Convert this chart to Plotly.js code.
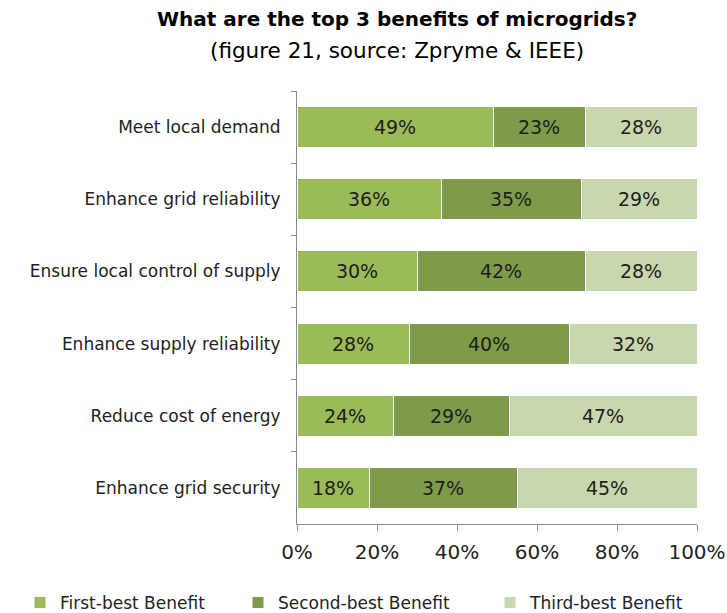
<!DOCTYPE html>
<html>
<head>
<meta charset="utf-8">
<script src="https://cdn.plot.ly/plotly-3.0.1.min.js"></script>
<style>html,body{margin:0;padding:0;background:#fff;}#chart{width:727px;height:613px;}</style>
</head>
<body>
<div id="chart"></div>
<script>
const categories = [
  "Meet local demand",
  "Enhance grid reliability",
  "Ensure local control of supply",
  "Enhance supply reliability",
  "Reduce cost of energy",
  "Enhance grid security"
];
const seriesNames = ["First-best Benefit", "Second-best Benefit", "Third-best Benefit"];
const firstBest  = [49, 36, 30, 28, 24, 18];
const secondBest = [23, 35, 42, 40, 29, 37];
const thirdBest  = [28, 29, 28, 32, 47, 45];
const tickValues = [0, 20, 40, 60, 80, 100];
const tickLabels = ["0%", "20%", "40%", "60%", "80%", "100%"];
const titleText = "What are the top 3 benefits of microgrids?";
const subtitleText = "(figure 21, source: Zpryme & IEEE)";

const colors = ["#9bbb59", "#7f9a48", "#c8d7ad"];
const FONT = "'DejaVu Sans', sans-serif";
const seriesValues = [firstBest, secondBest, thirdBest];
const legendIds = ["legend", "legend2", "legend3"];

const traces = seriesValues.map((vals, i) => ({
  type: "bar",
  orientation: "h",
  name: seriesNames[i],
  legend: legendIds[i],
  y: categories,
  x: vals,
  text: vals.map(v => v + "%"),
  texttemplate: "%{text}",
  textposition: "inside",
  insidetextanchor: "middle",
  textangle: 0,
  constraintext: "none",
  textfont: {family: FONT, size: 19, color: "#1e1e1e"},
  marker: {color: colors[i], line: {color: "#ffffff", width: 1}},
  hoverinfo: "skip"
}));

function legendAt(xpx) {
  return {
    orientation: "h",
    xref: "container", yref: "container",
    x: xpx / 727, xanchor: "left",
    y: 10 / 613, yanchor: "middle",
    font: {family: FONT, size: 17, color: "#222"},
    itemwidth: 30,
    bgcolor: "rgba(0,0,0,0)",
    borderwidth: 0
  };
}

const layout = {
  width: 727,
  height: 613,
  margin: {l: 297, r: 30, t: 91, b: 89},
  paper_bgcolor: "#fff",
  plot_bgcolor: "#fff",
  barmode: "stack",
  bargap: 0.43,
  showlegend: true,
  font: {family: FONT, color: "#222"},
  xaxis: {
    range: [0, 100],
    tickvals: tickValues,
    ticktext: tickLabels,
    showgrid: false,
    zeroline: false,
    showline: true,
    linecolor: "#8c8c8c",
    linewidth: 1,
    ticks: "outside",
    ticklen: 6,
    tickcolor: "#8c8c8c",
    ticklabelstandoff: 4,
    tickfont: {family: FONT, size: 20, color: "#222"},
    fixedrange: true
  },
  yaxis: {
    categoryorder: "array",
    categoryarray: categories,
    autorange: "reversed",
    showgrid: false,
    zeroline: false,
    showline: true,
    linecolor: "#8c8c8c",
    linewidth: 1,
    ticks: "outside",
    ticklen: 5,
    tickcolor: "#8c8c8c",
    tickson: "boundaries",
    ticklabelstandoff: 12,
    tickfont: {family: FONT, size: 17, color: "#222"},
    fixedrange: true
  },
  legend: legendAt(20),
  legend2: legendAt(238),
  legend3: legendAt(490),
  annotations: [
    {text: "<b>" + titleText + "</b>", xref: "paper", yref: "paper", x: 0.25, y: 1, xanchor: "center", yanchor: "middle", yshift: 72, showarrow: false, font: {family: FONT, size: 20, color: "#000"}},
    {text: subtitleText, xref: "paper", yref: "paper", x: 0.25, y: 1, xanchor: "center", yanchor: "middle", yshift: 41, showarrow: false, font: {family: FONT, size: 21.5, color: "#000"}}
  ]
};

Plotly.newPlot("chart", traces, layout, {displayModeBar: false, staticPlot: true});
</script>
</body>
</html>
